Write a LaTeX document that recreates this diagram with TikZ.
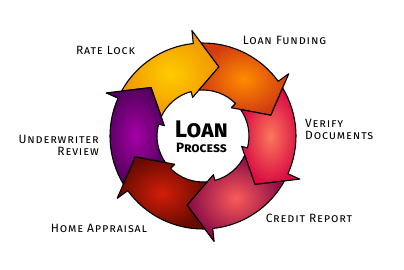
\documentclass[tikz,border=0pt]{standalone}
\usepackage{fontspec}
\setmainfont{Fira Sans}
\begin{document}
\begin{tikzpicture}[x=1pt,y=1pt,
  lbl/.style={font=\fontsize{12}{12}\selectfont\addfontfeatures{LetterSpace=7}\scshape, inner sep=0pt},
  arr/.style={draw=black, line width=1.1pt, line join=round}]
\fill[white] (0,0) rectangle (404,269);
\useasboundingbox (0,0) rectangle (404,269);
\newcommand\loanarrow[3]{%
  \pgfmathsetmacro\ta{#1}%
  \path[arr, inner color=#2, outer color=#3]
   ({\ta+74.1}:93pt) arc[start angle=\ta+74.1, end angle=\ta+19, radius=93pt]
   -- ({\ta+19}:106pt) -- (\ta:71pt) -- ({\ta+28}:40pt) -- ({\ta+28}:46pt)
   arc[start angle=\ta+28, end angle=\ta+78.2, radius=46pt]
   -- ({\ta+60}:71pt) -- cycle;}
\definecolor{yin}{RGB}{255,204,0}\definecolor{yout}{RGB}{240,150,0}
\definecolor{oin}{RGB}{255,140,0}\definecolor{oout}{RGB}{210,60,15}
\definecolor{pin}{RGB}{250,120,90}\definecolor{pout}{RGB}{218,12,68}
\definecolor{cin}{RGB}{250,90,90}\definecolor{cout}{RGB}{135,10,70}
\definecolor{din}{RGB}{210,30,10}\definecolor{dout}{RGB}{105,10,0}
\definecolor{uin}{RGB}{165,0,165}\definecolor{uout}{RGB}{85,0,95}
\begin{scope}[shift={(203,133)}]
  \loanarrow{77}{yin}{yout}
  \loanarrow{17}{oin}{oout}
  \loanarrow{-43}{pin}{pout}
  \loanarrow{-103}{cin}{cout}
  \loanarrow{-163}{din}{dout}
  \loanarrow{137}{uin}{uout}
\end{scope}
\node[lbl] (rate) at (105.5,219) {Rate Lock};
\node[lbl] (fund) at (284.5,229) {Loan Funding};
\node[lbl, anchor=west, align=left] (verify) at (305,140) {Verify\\Documents};
\node[lbl] (credit) at (309,51) {Credit Report};
\node[lbl] (home) at (99,41) {Home Appraisal};
\node[lbl, anchor=east, align=right] (under) at (99,124) {Underwriter\\Review};
\node[font=\bfseries\scshape, inner sep=0pt, align=center, anchor=base] (title) at (201.5,117)
  {{\fontsize{24}{24}\selectfont Loan}\\[2.5pt]{\fontsize{13.5}{14}\selectfont Process}};
\end{tikzpicture}
\end{document}
